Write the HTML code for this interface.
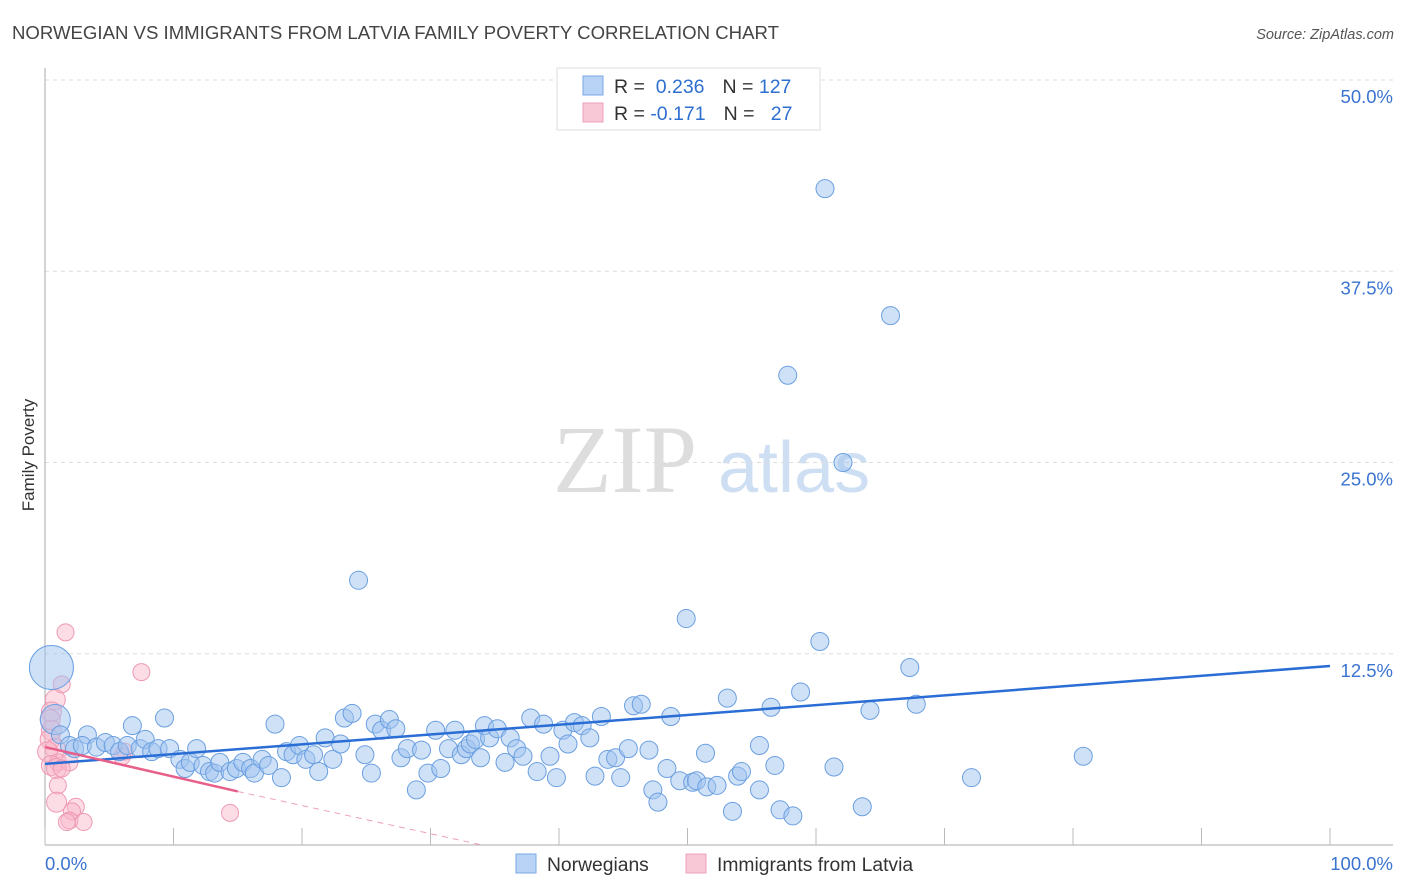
<!DOCTYPE html>
<html><head><meta charset="utf-8"><style>
body{margin:0;background:#fff;font-family:"Liberation Sans",sans-serif;}
svg{display:block}
</style></head><body>
<svg id="chart" width="1406" height="892" xmlns="http://www.w3.org/2000/svg">
<text x="12" y="39" font-size="18.6" fill="#444">NORWEGIAN VS IMMIGRANTS FROM LATVIA FAMILY POVERTY CORRELATION CHART</text>
<text x="1394" y="39" font-size="14.5" fill="#555" font-style="italic" text-anchor="end">Source: ZipAtlas.com</text>
<text transform="translate(34,455) rotate(-90)" font-size="17" fill="#333" text-anchor="middle">Family Poverty</text>
<g>
<text x="553" y="492" font-size="96" font-family="Liberation Serif,serif" fill="#ddd">ZIP</text>
<text x="718" y="492" font-size="72" fill="#cfdff3">atlas</text>
</g>
<g id="grid"></g>
<g id="axes"></g>
<g id="trend"></g>
<g id="points"></g>
<g>
<rect x="557" y="68" width="263" height="62" fill="#fff" stroke="#ddd"/>
<rect x="583" y="76" width="20" height="19" fill="#b8d3f5" stroke="#7aa8e6"/>
<rect x="583" y="103" width="20" height="19" fill="#f9c8d6" stroke="#eea0b8"/>
<text x="614" y="93" font-size="19.5" fill="#333">R = <tspan fill="#2e6fd0">&#160;0.236</tspan><tspan dx="18">N = </tspan><tspan fill="#2e6fd0">127</tspan></text>
<text x="614" y="120" font-size="19.5" fill="#333">R = <tspan fill="#2e6fd0">-0.171</tspan><tspan dx="18">N = </tspan><tspan fill="#2e6fd0">&#160;&#160;27</tspan></text>
</g>
<g>
<rect x="516" y="854" width="20" height="19" fill="#b8d3f5" stroke="#7aa8e6"/>
<text x="547" y="871" font-size="19.3" fill="#333">Norwegians</text>
<rect x="686" y="854" width="20" height="19" fill="#f9c8d6" stroke="#eea0b8"/>
<text x="717" y="871" font-size="19.3" fill="#333">Immigrants from Latvia</text>
</g>
</svg>
<script>
const yTicks=[12.5,25,37.5,50];
const yTickLabels=["12.5%","25.0%","37.5%","50.0%"];
const xTickVals=[0,10,20,30,40,50,60,70,80,90,100];
const blueX=[0.5,0.8,1.2,1.9,3.3,2.3,2.9,4.0,4.7,5.3,5.8,6.4,6.8,7.4,7.8,8.3,8.8,9.3,9.7,10.5,10.9,11.3,11.8,12.3,12.8,13.2,13.6,14.4,14.9,15.4,16.0,16.3,16.9,17.4,17.9,18.4,18.8,19.3,19.8,20.3,20.9,21.3,21.8,22.4,23.0,23.3,23.9,24.4,24.9,25.4,25.7,26.2,26.8,27.3,27.7,28.2,28.9,29.3,29.8,30.4,30.8,31.4,31.9,32.4,32.8,33.1,33.5,33.9,34.2,34.6,35.2,35.8,36.2,36.7,37.2,37.8,38.3,38.8,39.3,39.8,40.3,40.7,41.2,41.8,42.4,42.8,43.3,43.8,44.4,44.8,45.4,45.8,46.4,47.0,47.3,47.7,48.4,48.7,49.4,49.9,50.4,50.7,51.4,51.5,52.3,53.1,53.5,53.9,54.2,55.6,55.6,56.5,56.8,57.2,58.2,58.8,60.3,61.4,62.1,63.6,64.2,57.8,60.7,65.8,67.3,67.8,72.1,80.8];
const blueY=[11.6,8.2,7.2,6.5,7.2,6.3,6.5,6.4,6.7,6.5,6.1,6.5,7.8,6.3,6.9,6.1,6.3,8.3,6.3,5.6,5.0,5.4,6.3,5.2,4.8,4.7,5.4,4.8,5.0,5.4,5.0,4.7,5.6,5.2,7.9,4.4,6.1,5.9,6.5,5.6,5.9,4.8,7.0,5.6,6.6,8.3,8.6,17.3,5.9,4.7,7.9,7.5,8.2,7.6,5.7,6.3,3.6,6.2,4.7,7.5,5.0,6.3,7.5,5.9,6.3,6.6,6.9,5.7,7.8,7.0,7.6,5.4,7.0,6.3,5.8,8.3,4.8,7.9,5.8,4.4,7.5,6.6,8.0,7.8,7.0,4.5,8.4,5.6,5.7,4.4,6.3,9.1,9.2,6.2,3.6,2.8,5.0,8.4,4.2,14.8,4.1,4.2,6.0,3.8,3.9,9.6,2.2,4.5,4.8,6.5,3.6,9.0,5.2,2.3,1.9,10.0,13.3,5.1,25.0,2.5,8.8,30.7,42.9,34.6,11.6,9.2,4.4,5.8];
const blueR=[22,15];
const pinkX=[1.6,7.5,1.3,0.8,0.5,0.5,0.4,0.8,0.2,1.0,0.5,0.9,1.9,1.3,1.0,0.9,2.4,2.1,1.9,1.7,3.0,14.4,6.2,0.4,6.0];
const pinkY=[13.9,11.3,10.5,9.5,8.7,7.5,6.9,6.3,6.1,5.4,5.2,5.0,5.4,5.0,3.9,2.8,2.5,2.2,1.6,1.5,1.5,2.1,6.1,8.2,5.8];
const blueTrend=[[0,5.3],[100,11.7]];
const pinkTrend=[[0,6.4],[15,3.5]];
const pinkTrendDash=[[15,3.5],[34,0]];
const NS="http://www.w3.org/2000/svg";
const xs=v=>45+v*12.85;
const ys=v=>845-v*15.3;
function mk(tag,attrs,parent){const e=document.createElementNS(NS,tag);for(const k in attrs)e.setAttribute(k,attrs[k]);document.getElementById(parent).appendChild(e);return e;}
yTicks.forEach((t,i)=>{
 const l=mk('line',{x1:45,x2:1393,y1:ys(t),y2:ys(t),stroke:'#ddd','stroke-dasharray':'4,4'},'grid');
 
 
 const tx=mk('text',{x:1393,y:ys(t)+23,'font-size':18.5,fill:'#3a74d0','text-anchor':'end'},'grid');
 tx.textContent=yTickLabels[i];
 
 
});
const ax=mk('line',{x1:45,x2:45,y1:68,y2:845,stroke:'#aaa'},'axes');


const bx=mk('line',{x1:45,x2:1393,y1:845,y2:845,stroke:'#aaa'},'axes');


xTickVals.forEach(v=>{
 const t=mk('line',{x1:xs(v),x2:xs(v),y1:828,y2:845,stroke:'#bbb'},'axes');
 
 
});
const xl0=mk('text',{x:45,y:870,'font-size':18.5,fill:'#3a74d0'},'axes');xl0.textContent='0.0%';


const xl1=mk('text',{x:1393,y:870,'font-size':18.5,fill:'#3a74d0','text-anchor':'end'},'axes');xl1.textContent='100.0%';


pinkX.forEach((x,i)=>{
 const c=mk('circle',{cx:xs(x),cy:ys(pinkY[i]),r:(x<1?10:8.5),fill:'rgba(248,180,200,0.45)',stroke:'#ee9ab4','stroke-width':1},'points');
 
 
});
blueX.forEach((x,i)=>{
 const c=mk('circle',{cx:xs(x),cy:ys(blueY[i]),r:(blueR[i]||9),fill:'rgba(160,196,240,0.5)',stroke:'#6b9fe0','stroke-width':1},'points');
 
 
});
const bt=mk('line',{x1:xs(blueTrend[0][0]),y1:ys(blueTrend[0][1]),x2:xs(blueTrend[1][0]),y2:ys(blueTrend[1][1]),stroke:'#2a6dd4','stroke-width':2.5},'points');


const pt=mk('line',{x1:xs(pinkTrend[0][0]),y1:ys(pinkTrend[0][1]),x2:xs(pinkTrend[1][0]),y2:ys(pinkTrend[1][1]),stroke:'#e8608a','stroke-width':2.5},'points');


const pd=mk('line',{x1:xs(pinkTrendDash[0][0]),y1:ys(pinkTrendDash[0][1]),x2:xs(pinkTrendDash[1][0]),y2:ys(pinkTrendDash[1][1]),stroke:'#eea0b8','stroke-width':1,'stroke-dasharray':'6,5'},'points');


</script>
</body></html>
